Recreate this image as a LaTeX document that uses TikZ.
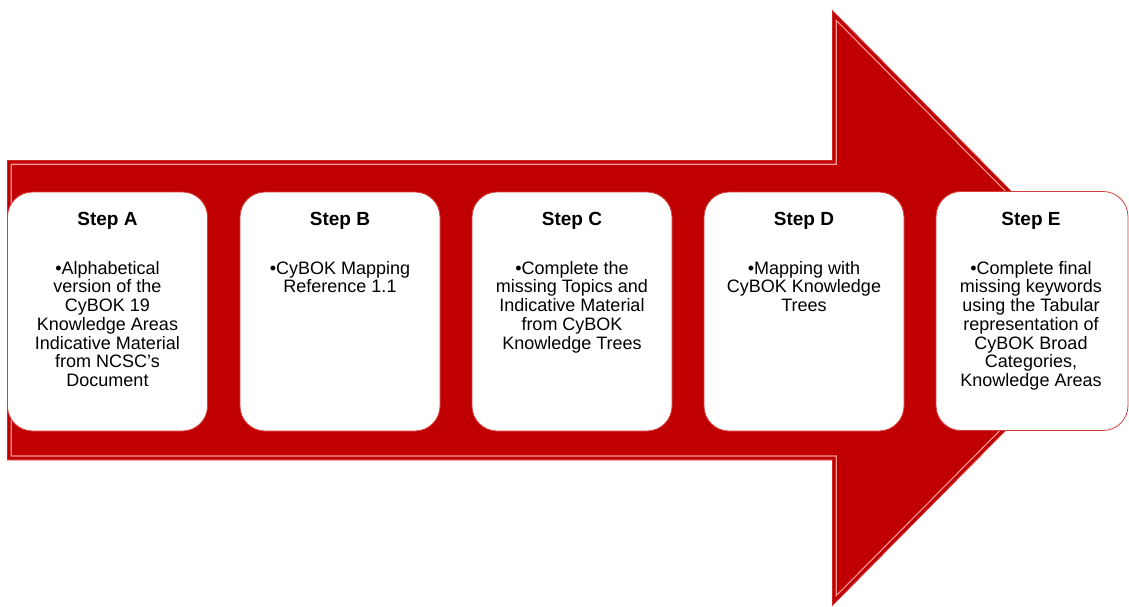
\documentclass[tikz,border=0pt]{standalone}
\usepackage{fontspec}
\setmainfont{Liberation Sans}
\definecolor{arrowred}{RGB}{192,0,0}
\definecolor{edgepink}{RGB}{245,150,150}
\definecolor{boxedge}{RGB}{215,60,60}
\tikzset{
  stepbox/.style={rectangle, rounded corners=25pt, fill=white, draw=boxedge, line width=0.8pt, minimum width=200pt, minimum height=239pt, inner sep=0pt},
  steptitle/.style={font=\fontsize{19}{22}\selectfont\bfseries, inner sep=0pt, anchor=base},
  stepbody/.style={font=\fontsize{18}{18.7}\selectfont, align=center, inner sep=0pt, anchor=north}
}
\begin{document}
\begin{tikzpicture}[x=1pt,y=-1pt]
\useasboundingbox (0,0) rectangle (1129,607);
\coordinate (p1) at (7,160);
\coordinate (p2) at (832,160);
\coordinate (p3) at (832,10);
\coordinate (p4) at (1127,308);
\coordinate (p5) at (832,606);
\coordinate (p6) at (832,460);
\coordinate (p7) at (7,460);
\fill[arrowred] (p1) -- (p2) -- (p3) -- (p4) -- (p5) -- (p6) -- (p7) -- cycle;
\begin{scope}
\clip (p1) -- (p2) -- (p3) -- (p4) -- (p5) -- (p6) -- (p7) -- cycle;
\draw[edgepink, line width=9.5pt, line join=miter] (p1) -- (p2) -- (p3) -- (p4) -- (p5) -- (p6) -- (p7) -- cycle;
\draw[arrowred, line width=7pt, line join=miter] (p1) -- (p2) -- (p3) -- (p4) -- (p5) -- (p6) -- (p7) -- cycle;
\draw[boxedge, line width=1.2pt, line join=miter] (p1) -- (p2) -- (p3) -- (p4) -- (p5) -- (p6) -- (p7) -- cycle;
\end{scope}

\node[stepbox] (boxA) at (107.5,311.5) {};
\node[stepbox] (boxB) at (340,311.5) {};
\node[stepbox] (boxC) at (572,311.5) {};
\node[stepbox] (boxD) at (804,311.5) {};
\node[stepbox, minimum width=192pt] (boxE) at (1032,311) {};

\node[steptitle] (tA) at (107.5,225) {Step A};
\node[steptitle] (tB) at (340,225) {Step B};
\node[steptitle] (tC) at (572,225) {Step C};
\node[steptitle] (tD) at (804,225) {Step D};
\node[steptitle] (tE) at (1031,225) {Step E};

\node[stepbody] (bA) at (107.5,261) {•Alphabetical\\version of the\\CyBOK 19\\Knowledge Areas\\Indicative Material\\from NCSC’s\\Document};
\node[stepbody] (bB) at (340,261) {•CyBOK Mapping\\Reference 1.1};
\node[stepbody] (bC) at (572,261) {•Complete the\\missing Topics and\\Indicative Material\\from CyBOK\\Knowledge Trees};
\node[stepbody] (bD) at (804,261) {•Mapping with\\CyBOK Knowledge\\Trees};
\node[stepbody] (bE) at (1031,261) {•Complete final\\missing keywords\\using the Tabular\\representation of\\CyBOK Broad\\Categories,\\Knowledge Areas};
\end{tikzpicture}
\end{document}
